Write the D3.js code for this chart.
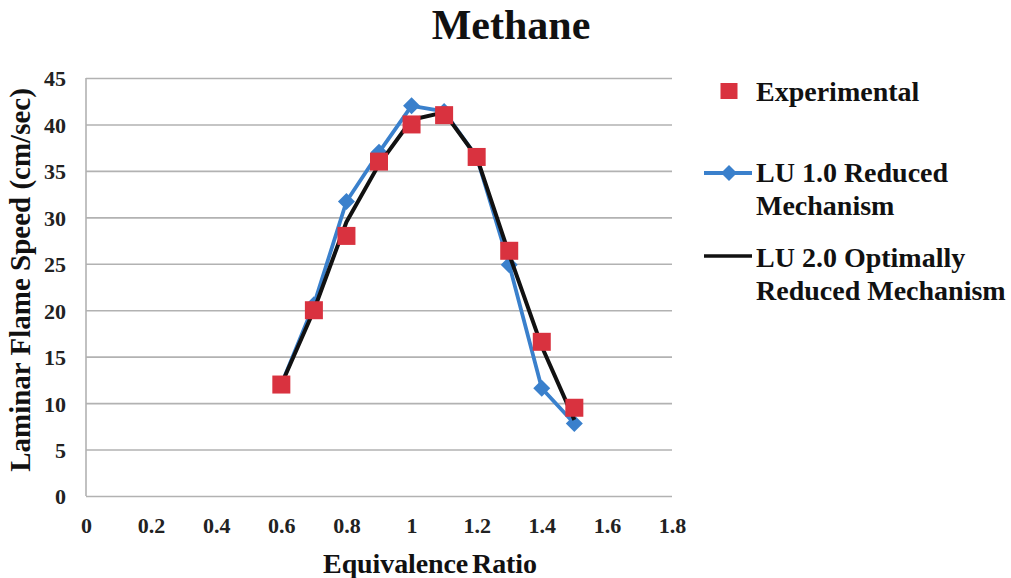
<!DOCTYPE html>
<html>
<head>
<meta charset="utf-8">
<script src="https://cdn.jsdelivr.net/npm/d3@7"></script>
<style>
  html, body { margin: 0; padding: 0; background: #fff; }
  svg { display: block; }
  svg text { font-family: "Liberation Serif", "Times New Roman", Tinos, "DejaVu Serif", serif; font-weight: bold; }
</style>
</head>
<body>
<svg id="chart" width="1011" height="578"></svg>
<script>
// Equivalence ratios at which flame speeds were evaluated
const phi = [0.6, 0.7, 0.8, 0.9, 1.0, 1.1, 1.2, 1.3, 1.4, 1.5];
// Laminar flame speed (cm/sec)
const experimental = [12, 20, 28, 36, 40, 41, 36.5, 26.4, 16.6, 9.5];
const lu10Reduced   = [12, 20.6, 31.7, 37, 42, 41.4, 36.5, 24.9, 11.6, 7.8];
const lu20Optimal   = [12, 20, 29.5, 35.7, 40.5, 41.3, 36.5, 26, 16.1, 8.2];

const xTicks = [0, 0.2, 0.4, 0.6, 0.8, 1, 1.2, 1.4, 1.6, 1.8];
const yTicks = [0, 5, 10, 15, 20, 25, 30, 35, 40, 45];

const seriesNames = ["Experimental", ["LU 1.0 Reduced", "Mechanism"], ["LU 2.0 Optimally", "Reduced Mechanism"]];

const colors = { exp: "#d9323f", lu10: "#3a80cc", lu20: "#111111", grid: "#b2b2b2" };
const serif = '"Liberation Serif", "Times New Roman", Tinos, "DejaVu Serif", serif';

const svg = d3.select("#chart");
const plot = { left: 86, right: 672, top: 78, bottom: 496 };

const x = d3.scaleLinear().domain([0, 1.8]).range([plot.left, plot.right]);
const y = d3.scaleLinear().domain([0, 45]).range([plot.bottom, plot.top]);

// Title
svg.append("text")
  .attr("x", 511).attr("y", 39)
  .attr("text-anchor", "middle")
  .attr("font-family", serif).attr("font-weight", "bold")
  .style("font-size", "42px")
  .attr("fill", "#111")
  .text("Methane");

// Horizontal gridlines with value labels
const yAxis = svg.append("g")
  .attr("transform", `translate(${plot.left},0)`)
  .call(d3.axisLeft(y).tickValues(yTicks).tickSize(-(plot.right - plot.left)).tickPadding(20).tickFormat(d3.format("d")));
yAxis.select(".domain").remove();
yAxis.attr("font-family", serif).attr("font-size", 22);
yAxis.selectAll(".tick line").attr("stroke", colors.grid).attr("stroke-width", 1.6);
yAxis.selectAll(".tick text")
  .attr("fill", "#222").attr("dy", "0.36em");

// Vertical axis line
svg.append("line")
  .attr("x1", plot.left).attr("x2", plot.left)
  .attr("y1", plot.top).attr("y2", plot.bottom)
  .attr("stroke", colors.grid).attr("stroke-width", 1.6);

// X axis labels
const xAxis = svg.append("g")
  .attr("transform", `translate(0,${plot.bottom})`)
  .call(d3.axisBottom(x).tickValues(xTicks).tickSize(0).tickPadding(21).tickFormat(d => d3.format("~g")(d)));
xAxis.select(".domain").remove();
xAxis.attr("font-family", serif).attr("font-size", 22);
xAxis.selectAll(".tick text").attr("fill", "#222");

// Axis titles
svg.append("text")
  .attr("transform", "translate(30,280) rotate(-90)")
  .attr("text-anchor", "middle")
  .style("font-size", "29px")
  .attr("fill", "#111")
  .text("Laminar Flame Speed (cm/sec)");

svg.append("text")
  .attr("x", 430).attr("y", 573)
  .attr("text-anchor", "middle")
  .style("font-size", "28px")
  .style("letter-spacing", "-0.1px")
  .style("word-spacing", "-3px")
  .attr("fill", "#111")
  .text("Equivalence Ratio");

const line = d3.line().x(d => x(d[0])).y(d => y(d[1]));
const diamond = (cx, cy, r) => `M${cx},${cy - r}L${cx + r},${cy}L${cx},${cy + r}L${cx - r},${cy}Z`;

// LU 1.0 reduced mechanism: blue line with diamond markers
const lu10Pts = phi.map((p, i) => [p, lu10Reduced[i]]);
svg.append("path")
  .datum(lu10Pts)
  .attr("d", line)
  .attr("fill", "none").attr("stroke", colors.lu10).attr("stroke-width", 3.8)
  .attr("stroke-linejoin", "round");
svg.append("g").selectAll("path")
  .data(lu10Pts).join("path")
  .attr("d", d => diamond(x(d[0]), y(d[1]), 8.5))
  .attr("fill", colors.lu10);

// LU 2.0 optimally reduced mechanism: black line
const lu20Pts = phi.map((p, i) => [p, lu20Optimal[i]]);
svg.append("path")
  .datum(lu20Pts)
  .attr("d", line)
  .attr("fill", "none").attr("stroke", colors.lu20).attr("stroke-width", 4)
  .attr("stroke-linejoin", "round");

// Experimental data: red squares
const sq = 18;
svg.append("g").selectAll("rect")
  .data(phi.map((p, i) => [p, experimental[i]])).join("rect")
  .attr("x", d => x(d[0]) - sq / 2).attr("y", d => y(d[1]) - sq / 2)
  .attr("width", sq).attr("height", sq)
  .attr("fill", colors.exp);

// Legend
const legend = svg.append("g").style("font-size", "28px").attr("fill", "#111");
legend.append("rect").attr("x", 720.5).attr("y", 83).attr("width", 17).attr("height", 16).attr("fill", colors.exp);
legend.append("text").attr("x", 756).attr("y", 101).text(seriesNames[0]);

legend.append("line").attr("x1", 704).attr("x2", 752).attr("y1", 173).attr("y2", 173)
  .attr("stroke", colors.lu10).attr("stroke-width", 3.8);
legend.append("path").attr("d", diamond(729, 173, 8)).attr("fill", colors.lu10);
seriesNames[1].forEach((t, i) => legend.append("text").attr("x", 756).attr("y", 182 + i * 33).text(t));

legend.append("line").attr("x1", 704).attr("x2", 752).attr("y1", 256).attr("y2", 256)
  .attr("stroke", colors.lu20).attr("stroke-width", 3.5);
seriesNames[2].forEach((t, i) => legend.append("text").attr("x", 756).attr("y", 267 + i * 33).text(t));
</script>
</body>
</html>
